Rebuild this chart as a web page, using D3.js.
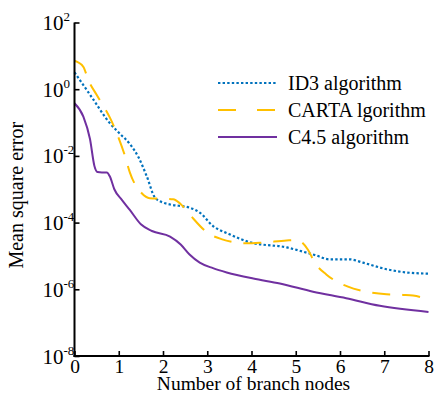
<!DOCTYPE html>
<html><head><meta charset="utf-8">
<script src="https://cdn.jsdelivr.net/npm/d3@7/dist/d3.min.js"></script>
<style>
html,body{margin:0;padding:0;background:#fff;}
</style></head>
<body>
<svg id="c" width="436" height="394"></svg>
<script>
// ---- data ----
const seriesNames = ["ID3 algorithm", "CARTA lgorithm", "C4.5 algorithm"];
const id3X = [0, 0.4, 0.8, 1.0, 1.26, 1.45, 1.63, 1.82, 2.0, 2.16, 2.6, 2.83, 3.13, 3.5, 4.0, 4.8, 5.16, 5.43, 5.77, 6.22, 6.52, 7.05, 7.5, 8];
const id3Y = [3.2, 0.55, 0.095, 0.05, 0.022, 0.0089, 2.5e-3, 5.6e-4, 4.0e-4, 3.5e-4, 2.8e-4, 2.0e-4, 7.9e-5, 4.5e-5, 2.5e-5, 1.8e-5, 1.35e-5, 1.07e-5, 7.9e-6, 7.9e-6, 6.3e-6, 4.0e-6, 3.2e-6, 2.95e-6];
const cartX = [0, 0.2, 0.31, 0.5, 0.8, 0.95, 1.14, 1.25, 1.52, 1.7, 2.0, 2.23, 2.38, 2.61, 3.02, 3.32, 3.89, 4.22, 4.79, 5.0, 5.13, 5.28, 5.43, 5.69, 6.18, 6.52, 7.05, 7.42, 7.65, 8];
const cartY = [7.1, 4.7, 1.9, 0.68, 0.14, 0.05, 0.01, 3.2e-3, 7.6e-4, 5.4e-4, 5.2e-4, 5.0e-4, 3.8e-4, 1.7e-4, 4.8e-5, 3.2e-5, 2.4e-5, 2.5e-5, 2.9e-5, 3.0e-5, 2.6e-5, 1.5e-5, 6.3e-6, 2.8e-6, 1.2e-6, 8.9e-7, 7.1e-7, 6.8e-7, 6.5e-7, 5.0e-7];
const c45X = [0, 0.2, 0.35, 0.45, 0.52, 0.62, 0.73, 0.8, 0.9, 1.07, 1.25, 1.5, 1.75, 2.16, 2.4, 2.6, 2.83, 3.13, 3.44, 4.04, 4.64, 5.39, 6.14, 6.9, 8];
const c45Y = [0.38, 0.15, 0.032, 5.0e-3, 3.3e-3, 3.2e-3, 3.2e-3, 2.4e-3, 1.0e-3, 4.8e-4, 2.4e-4, 8.9e-5, 5.6e-5, 3.8e-5, 2.2e-5, 1.1e-5, 6.3e-6, 4.3e-6, 3.2e-6, 2.1e-6, 1.5e-6, 8.5e-7, 5.4e-7, 3.2e-7, 2.1e-7];
const xTicks = [0, 1, 2, 3, 4, 5, 6, 7, 8];
const yTickExps = [2, 0, -2, -4, -6, -8];
const xLabel = "Number of branch nodes";
const yLabel = "Mean square error";

// ---- layout ----
const FONT = "Liberation Serif, Tinos, DejaVu Serif, Times New Roman, serif";
const svg = d3.select("#c").attr("font-family", FONT);
const L = 74.5, R = 428.5, T = 22.5, B = 356;
const x = d3.scaleLinear().domain([0, 8]).range([L, R]);
const y = d3.scaleLog().domain([1e-8, 1e2]).range([B, T]);

const styles = [
  {color: "#0072BD", dash: "2.4,2.2", legDash: "2.4,2.2", w: 2.2},
  {color: "#FFC000", dash: "18,12", legDash: "18,21", w: 2},
  {color: "#7030A0", dash: null, legDash: null, w: 2}
];
const series = [
  {x: id3X, y: id3Y},
  {x: cartX, y: cartY},
  {x: c45X, y: c45Y}
];

const line = d3.line().x(d => x(d[0])).y(d => y(d[1])).curve(d3.curveMonotoneX);
series.forEach((s, i) => {
  const pts = s.x.map((v, k) => [v, s.y[k]]);
  svg.append("path").datum(pts).attr("d", line)
    .attr("fill", "none").attr("stroke", styles[i].color)
    .attr("stroke-width", styles[i].w)
    .attr("stroke-dasharray", styles[i].dash);
});

// axes
const xAxis = d3.axisBottom(x).tickValues(xTicks).tickSize(-5).tickFormat(d3.format("d")).tickSizeOuter(0);
const gx = svg.append("g").attr("transform", `translate(0,${B})`).call(xAxis).attr("font-family", FONT);
gx.select(".domain").attr("stroke", "#000").attr("stroke-width", 2).attr("d", `M${L - 1},0H${R + 1}`);
gx.selectAll(".tick line").attr("stroke", "#000").attr("stroke-width", 1.6);
gx.selectAll(".tick text").attr("y", 16.5).attr("dy", null).attr("font-size", 19.5)
  .attr("font-family", FONT).attr("fill", "#000");

const yAxis = d3.axisLeft(y).tickValues(yTickExps.map(e => Math.pow(10, e))).tickSize(-5).tickFormat("").tickSizeOuter(0);
const gy = svg.append("g").attr("transform", `translate(${L},0)`).call(yAxis).attr("font-family", FONT);
gy.select(".domain").attr("stroke", "#000").attr("stroke-width", 2).attr("d", `M0,${T}V${B + 1}`);
gy.selectAll(".tick line").attr("stroke", "#000").attr("stroke-width", 1.6);
gy.selectAll(".tick").each(function(d, i) {
  const t = d3.select(this).append("text").attr("x", -32).attr("y", 7).attr("font-size", 21)
    .attr("font-family", FONT).attr("fill", "#000").attr("text-anchor", "start");
  t.append("tspan").text("10");
  t.append("tspan").attr("dy", -9).attr("font-size", 13).text(String(yTickExps[i]));
});

// axis labels
svg.append("text").attr("x", (L + R) / 2 + 2).attr("y", 389.5).attr("text-anchor", "middle")
  .attr("font-size", 19.5).attr("font-family", FONT).text(xLabel);
svg.append("text").attr("transform", `translate(23,${(T + B) / 2 + 6}) rotate(-90)`).attr("text-anchor", "middle")
  .attr("font-size", 20).attr("font-family", FONT).text(yLabel);

// legend
const legY = [83, 110, 137];
seriesNames.forEach((n, i) => {
  svg.append("line").attr("x1", 218).attr("x2", 277).attr("y1", legY[i]).attr("y2", legY[i])
    .attr("stroke", styles[i].color).attr("stroke-width", styles[i].w)
    .attr("stroke-dasharray", styles[i].legDash);
  svg.append("text").attr("x", 288).attr("y", legY[i] + 7).attr("font-size", 20)
    .attr("font-family", FONT).text(n);
});
</script>
</body></html>
